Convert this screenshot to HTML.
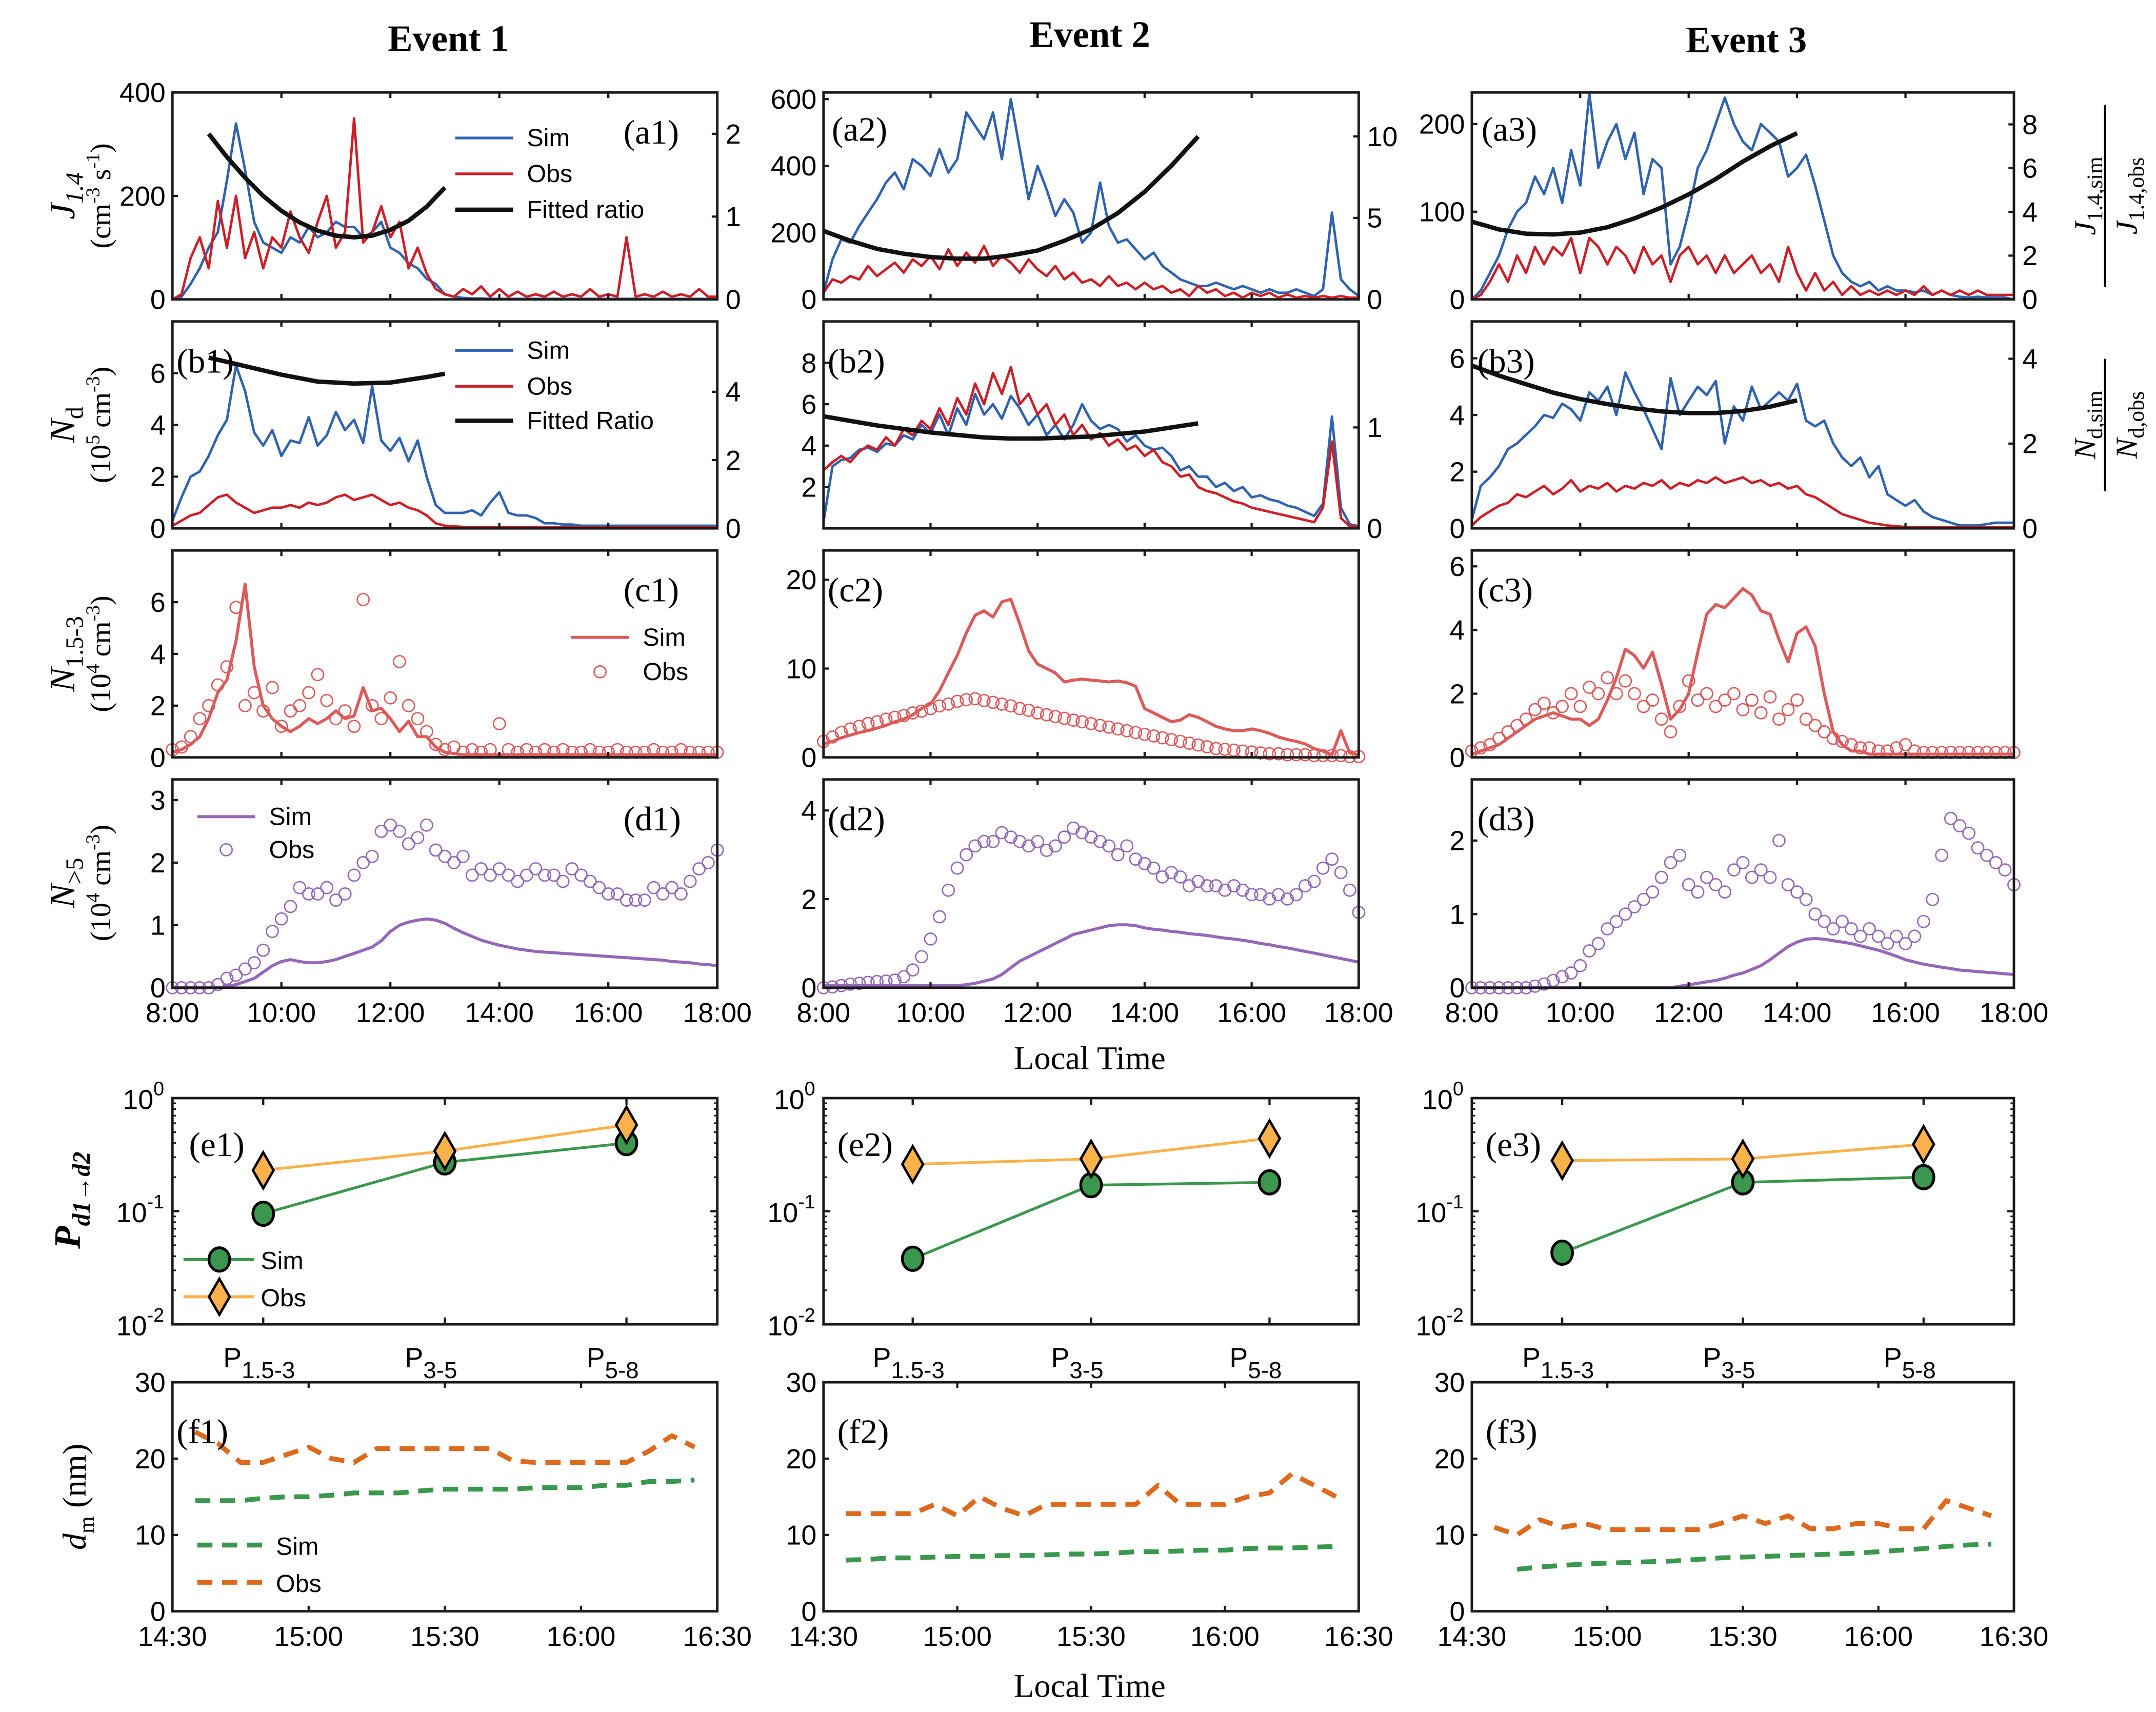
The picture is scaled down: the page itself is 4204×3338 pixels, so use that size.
<!DOCTYPE html>
<html><head><meta charset="utf-8"><title>Events chart</title>
<style>
html,body{margin:0;padding:0;background:#fff;}
svg{display:block;}
.tk{font-family:"Liberation Sans",Arial,sans-serif;font-size:20px;fill:#000;}
.lg{font-family:"Liberation Sans",Arial,sans-serif;font-size:18px;fill:#000;}
.sf{font-family:"Liberation Serif","Times New Roman",serif;fill:#000;}
</style></head>
<body>
<svg id="chart" xmlns="http://www.w3.org/2000/svg" width="4204" height="3338" viewBox="0 0 1563 1241">
<rect x="0" y="0" width="1563" height="1241" fill="#fff"/>
<text class="sf" x="325" y="37" font-size="27" font-weight="bold" text-anchor="middle">Event 1</text>
<text class="sf" x="790" y="34" font-size="27" font-weight="bold" text-anchor="middle">Event 2</text>
<text class="sf" x="1266" y="38" font-size="27" font-weight="bold" text-anchor="middle">Event 3</text>
<text class="sf" x="790" y="775" font-size="24" text-anchor="middle">Local Time</text>
<text class="sf" x="790" y="1230" font-size="24" text-anchor="middle">Local Time</text>
<text class="sf" transform="translate(54,142) rotate(-90)" font-size="26" text-anchor="middle"><tspan font-style="italic">J</tspan><tspan font-style="italic" font-size="18" dy="6">1.4</tspan></text>
<text class="sf" transform="translate(80,142) rotate(-90)" font-size="21" text-anchor="middle">(cm<tspan font-size="14" dy="-8">-3</tspan><tspan dy="8"> s</tspan><tspan font-size="14" dy="-8">-1</tspan><tspan dy="8">)</tspan></text>
<text class="sf" transform="translate(54,308) rotate(-90)" font-size="26" text-anchor="middle"><tspan font-style="italic">N</tspan><tspan font-size="18" dy="6">d</tspan></text>
<text class="sf" transform="translate(80,308) rotate(-90)" font-size="21" text-anchor="middle">(10<tspan font-size="14" dy="-8">5</tspan><tspan dy="8"> cm</tspan><tspan font-size="14" dy="-8">-3</tspan><tspan dy="8">)</tspan></text>
<text class="sf" transform="translate(54,474) rotate(-90)" font-size="26" text-anchor="middle"><tspan font-style="italic">N</tspan><tspan font-size="18" dy="6">1.5-3</tspan></text>
<text class="sf" transform="translate(80,474) rotate(-90)" font-size="21" text-anchor="middle">(10<tspan font-size="14" dy="-8">4</tspan><tspan dy="8"> cm</tspan><tspan font-size="14" dy="-8">-3</tspan><tspan dy="8">)</tspan></text>
<text class="sf" transform="translate(54,640) rotate(-90)" font-size="26" text-anchor="middle"><tspan font-style="italic">N</tspan><tspan font-size="18" dy="6">&gt;5</tspan></text>
<text class="sf" transform="translate(80,640) rotate(-90)" font-size="21" text-anchor="middle">(10<tspan font-size="14" dy="-8">4</tspan><tspan dy="8"> cm</tspan><tspan font-size="14" dy="-8">-3</tspan><tspan dy="8">)</tspan></text>
<text class="sf" transform="translate(58,870) rotate(-90)" font-size="27" font-weight="bold" font-style="italic" text-anchor="middle">P<tspan font-size="18" dy="7">d1→d2</tspan></text>
<text class="sf" transform="translate(62,1085) rotate(-90)" font-size="24" text-anchor="middle"><tspan font-style="italic">d</tspan><tspan font-size="16" dy="6">m</tspan><tspan dy="-6"> (nm)</tspan></text>
<text class="sf" transform="translate(1519,142) rotate(-90)" font-size="22" text-anchor="middle"><tspan font-style="italic">J</tspan><tspan font-size="16" dy="5">1.4,sim</tspan></text>
<line x1="1526" y1="76" x2="1526" y2="208" stroke="#000" stroke-width="1.5"/>
<text class="sf" transform="translate(1549,142) rotate(-90)" font-size="22" text-anchor="middle"><tspan font-style="italic">J</tspan><tspan font-size="16" dy="5">1.4,obs</tspan></text>
<text class="sf" transform="translate(1519,308) rotate(-90)" font-size="22" text-anchor="middle"><tspan font-style="italic">N</tspan><tspan font-size="16" dy="5">d,sim</tspan></text>
<line x1="1526" y1="260" x2="1526" y2="356" stroke="#000" stroke-width="1.5"/>
<text class="sf" transform="translate(1549,308) rotate(-90)" font-size="22" text-anchor="middle"><tspan font-style="italic">N</tspan><tspan font-size="16" dy="5">d,obs</tspan></text>
<g id="plots"></g>
</svg>
<script>
const a1Sim=[0,5,30,60,100,130, 230,340,250,150,110,100, 90,120,110,140,120,130, 150,140,140,120,130,150, 100,90,70,60,40,30, 10,5,3,2,2,1, 1,1,1,1,1,1, 1,1,1,1,1,1, 1,1,1,1,1,1, 1,1,1,1,1,1, 0];
const a1Obs=[0,10,80,120,60,190, 100,200,80,130,60,120, 100,170,120,90,150,200, 100,130,350,110,130,180, 120,150,60,100,50,20, 10,5,20,10,25,5, 20,5,15,5,10,5, 15,5,10,5,20,5, 10,5,120,5,10,5, 15,5,10,5,20,5, 5];
const a2Sim=[20,120,180,170,220,260, 300,350,380,330,420,400, 370,450,380,420,560,520, 480,560,420,600,450,300, 400,330,250,300,260,170, 200,350,220,170,180,150, 120,140,100,80,60,50, 40,40,50,40,30,40, 30,20,30,20,20,30, 20,10,30,260,60,30, 10];
const a2Obs=[20,60,50,70,60,100, 70,90,110,80,120,100, 130,90,150,100,140,110, 160,100,130,110,80,120, 90,70,100,60,80,50, 60,40,70,40,50,30, 50,30,40,20,30,10, 40,20,30,10,20,5, 20,10,20,5,15,5, 10,5,10,5,10,5, 5];
const a3Sim=[0,10,30,50,80,100, 110,140,120,150,110,170, 130,235,150,180,200,160, 190,120,160,150,40,60, 100,150,170,200,230,200, 180,170,200,190,180,140, 150,165,130,90,50,30, 20,15,20,10,15,10, 10,8,10,5,10,5, 3,2,3,2,2,2, 0];
const a3Obs=[0,5,20,40,20,50, 30,60,40,60,50,70, 30,70,60,40,60,50, 30,60,40,50,20,50, 60,40,50,30,50,30, 40,50,30,40,20,60, 30,10,30,10,20,5, 15,5,10,5,10,5, 10,5,15,5,10,5, 10,5,10,5,5,5, 5];
const b1Sim=[0.3,1.2,2.0,2.2,2.8,3.6, 4.2,6.3,5.3,3.7,3.2,3.8, 2.8,3.4,3.3,4.3,3.2,3.6, 4.5,3.8,4.2,3.3,5.5,3.4, 3.0,3.5,2.6,3.4,2.0,0.9, 0.6,0.6,0.6,0.7,0.5,1.0, 1.4,0.6,0.5,0.5,0.4,0.2, 0.2,0.15,0.15,0.1,0.1,0.1, 0.1,0.1,0.1,0.1,0.1,0.1, 0.1,0.1,0.1,0.1,0.1,0.1, 0.1];
const b1Obs=[0.1,0.3,0.5,0.6,0.9,1.2, 1.3,1.0,0.8,0.6,0.7,0.8, 0.8,0.9,0.8,1.0,0.9,1.0, 1.2,1.3,1.1,1.2,1.3,1.1, 0.9,1.0,0.8,0.7,0.5,0.2, 0.1,0.08,0.06,0.05,0.05,0.05, 0.05,0.05,0.05,0.05,0.05,0.05, 0.05,0.05,0.05,0.05,0.05,0.05, 0.05,0.05,0.05,0.05,0.05,0.05, 0.05,0.05,0.05,0.05,0.05,0.05, 0.05];
const b2Sim=[0.3,3.0,3.3,3.4,3.8,3.9, 3.7,4.1,4.0,4.5,4.3,5.0, 4.6,5.5,4.5,5.8,5.0,6.5, 5.5,6.0,5.3,6.4,5.8,5.0, 5.5,4.5,5.0,4.3,5.0,6.0, 5.2,4.8,5.0,4.8,4.2,4.5, 4.0,3.8,3.9,3.5,2.8,3.0, 2.5,2.5,2.0,2.2,1.8,2.0, 1.5,1.6,1.4,1.3,1.1,1.0, 0.8,0.6,1.2,5.4,1.0,0.2, 0.1];
const b2Obs=[2.8,3.2,3.5,3.2,3.7,4.0, 3.8,4.4,4.0,4.8,4.5,5.2, 4.8,5.8,5.0,6.3,5.5,7.0, 6.0,7.5,6.5,7.8,6.0,6.5, 5.5,6.0,5.0,5.5,4.5,5.0, 4.3,4.6,4.0,4.3,3.8,4.0, 3.5,3.8,3.2,3.0,2.5,2.6, 2.0,1.8,1.7,1.5,1.3,1.2, 1.0,0.9,0.8,0.7,0.6,0.5, 0.4,0.3,1.0,4.2,0.5,0.1, 0.1];
const b3Sim=[0.3,1.5,1.8,2.2,2.8,3.0, 3.3,3.6,4.0,3.9,4.4,4.2, 3.8,4.8,4.5,5.0,4.0,5.5, 4.8,4.2,3.5,2.8,5.3,4.0, 4.5,5.0,4.7,5.2,3.0,4.3, 3.8,5.0,4.2,4.5,4.8,4.5, 5.1,3.8,3.6,3.8,3.0,2.5, 2.2,2.5,1.8,2.2,1.2,1.0, 0.8,1.0,0.6,0.4,0.3,0.2, 0.1,0.1,0.1,0.15,0.2,0.2, 0.2];
const b3Obs=[0.1,0.4,0.6,0.8,0.9,1.2, 1.1,1.3,1.5,1.2,1.4,1.7, 1.3,1.5,1.4,1.6,1.3,1.5, 1.4,1.6,1.5,1.7,1.4,1.6, 1.5,1.7,1.6,1.8,1.6,1.7, 1.8,1.6,1.7,1.5,1.6,1.4, 1.5,1.2,1.1,0.9,0.7,0.5, 0.4,0.3,0.2,0.15,0.1,0.08, 0.05,0.05,0.05,0.05,0.05,0.05, 0.05,0.05,0.05,0.05,0.05,0.05, 0.05];
const c1Sim=[0.2,0.3,0.5,0.8,1.5,2.5, 3.0,4.5,6.7,3.5,2.0,1.5, 1.2,1.0,1.2,1.5,1.3,1.5, 1.8,1.5,1.6,2.7,1.8,1.9, 1.5,1.0,1.4,0.8,0.8,0.4, 0.2,0.15,0.1,0.1,0.1,0.1, 0.1,0.1,0.1,0.1,0.1,0.1, 0.1,0.1,0.1,0.1,0.1,0.1, 0.1,0.1,0.1,0.1,0.1,0.1, 0.1,0.1,0.1,0.1,0.1,0.1, 0.1];
const c1Obs=[0.3,0.4,0.8,1.5,2.0,2.8, 3.5,5.8,2.0,2.5,1.8,2.7, 1.2,1.8,2.0,2.5,3.2,2.2, 1.5,1.8,1.2,6.1,2.0,1.5, 2.3,3.7,2.0,1.5,1.0,0.5, 0.3,0.4,0.2,0.3,0.2,0.3, 1.3,0.3,0.2,0.3,0.2,0.3, 0.2,0.3,0.2,0.2,0.3,0.2, 0.2,0.3,0.2,0.2,0.2,0.3, 0.2,0.2,0.3,0.2,0.2,0.2, 0.2];
const c2Sim=[1.5,1.8,2.2,2.5,2.8,3.0, 3.3,3.6,4.0,4.3,4.8,5.5, 6.0,7.5,9.5,11.5,14.0,16.0, 16.5,15.8,17.5,17.8,15.0,12.0, 10.5,10.0,9.5,8.5,8.7,8.8, 8.7,8.6,8.5,8.6,8.4,8.0, 5.5,5.0,4.5,4.0,4.2,4.8, 4.5,4.0,3.5,3.2,3.0,3.0, 3.2,3.0,2.7,2.3,2.0,1.8, 1.5,1.0,0.7,0.3,3.0,0.5, 0.3];
const c2Obs=[1.8,2.3,2.8,3.2,3.5,3.8, 4.0,4.3,4.5,4.7,5.0,5.2, 5.5,5.8,6.0,6.3,6.5,6.6, 6.4,6.2,6.0,5.8,5.5,5.3, 5.0,4.8,4.6,4.4,4.2,4.0, 3.8,3.6,3.4,3.2,3.0,2.8, 2.6,2.4,2.2,2.0,1.8,1.6, 1.4,1.2,1.0,0.9,0.8,0.7, 0.6,0.5,0.4,0.4,0.3,0.3, 0.3,0.2,0.2,0.2,0.2,0.1, 0.1];
const c3Sim=[0.1,0.2,0.3,0.4,0.6,0.8, 1.0,1.2,1.3,1.4,1.3,1.2, 1.2,1.0,1.2,1.8,2.5,3.4, 3.2,2.8,3.3,2.3,1.2,1.5, 2.0,3.3,4.5,4.8,4.7,5.0, 5.3,5.1,4.6,4.5,3.7,3.0, 3.9,4.1,3.5,2.0,0.8,0.4, 0.2,0.2,0.1,0.1,0.1,0.1, 0.1,0.1,0.1,0.1,0.1,0.1, 0.1,0.1,0.1,0.1,0.1,0.1, 0.1];
const c3Obs=[0.2,0.3,0.4,0.6,0.8,1.0, 1.2,1.5,1.7,1.4,1.6,2.0, 1.6,2.2,2.0,2.5,2.0,2.4, 2.0,1.6,1.8,1.2,0.8,1.6, 2.4,1.8,2.0,1.6,1.8,2.0, 1.5,1.8,1.4,1.9,1.2,1.5, 1.8,1.2,1.0,0.8,0.6,0.5, 0.4,0.3,0.3,0.2,0.2,0.3, 0.4,0.2,0.15,0.15,0.15,0.15, 0.15,0.15,0.15,0.15,0.15,0.15, 0.15];
const d1Sim=[0,0,0,0,0,0, 0.02,0.05,0.1,0.15,0.25,0.35, 0.42,0.45,0.42,0.40,0.40,0.42, 0.45,0.50,0.55,0.60,0.65,0.75, 0.90,1.00,1.05,1.08,1.10,1.08, 1.03,0.95,0.88,0.82,0.76,0.72, 0.68,0.65,0.62,0.60,0.58,0.57, 0.56,0.55,0.54,0.53,0.52,0.51, 0.50,0.49,0.48,0.47,0.46,0.45, 0.44,0.42,0.41,0.40,0.38,0.37, 0.35];
const d1Obs=[0,0,0,0,0,0.05, 0.15,0.2,0.3,0.4,0.6,0.9, 1.1,1.3,1.6,1.5,1.5,1.6, 1.4,1.5,1.8,2.0,2.1,2.5, 2.6,2.5,2.3,2.4,2.6,2.2, 2.1,2.0,2.1,1.8,1.9,1.8, 1.9,1.8,1.7,1.8,1.9,1.8, 1.8,1.7,1.9,1.8,1.7,1.6, 1.5,1.5,1.4,1.4,1.4,1.6, 1.5,1.6,1.5,1.7,1.9,2.0, 2.2];
const d2Sim=[0.05,0.05,0.05,0.05,0.05,0.05, 0.05,0.05,0.05,0.05,0.05,0.05, 0.05,0.05,0.05,0.05,0.07,0.1, 0.15,0.2,0.3,0.45,0.6,0.7, 0.8,0.9,1.0,1.1,1.2,1.25, 1.3,1.35,1.4,1.42,1.42,1.4, 1.35,1.32,1.3,1.27,1.25,1.22, 1.2,1.18,1.15,1.12,1.1,1.07, 1.04,1.0,0.97,0.93,0.9,0.86, 0.82,0.78,0.74,0.7,0.66,0.62, 0.58];
const d2Obs=[0,0.02,0.05,0.08,0.1,0.12, 0.14,0.15,0.17,0.25,0.4,0.7, 1.1,1.6,2.2,2.7,3.0,3.2, 3.3,3.3,3.5,3.4,3.3,3.2, 3.3,3.1,3.2,3.4,3.6,3.5, 3.4,3.3,3.2,3.0,3.2,2.9, 2.8,2.7,2.5,2.6,2.5,2.3, 2.4,2.3,2.3,2.2,2.3,2.2, 2.1,2.1,2.0,2.1,2.0,2.1, 2.3,2.4,2.7,2.9,2.6,2.2, 1.7];
const d3Sim=[0,0,0,0,0,0, 0,0,0,0,0,0, 0,0,0,0,0,0, 0,0,0,0,0,0.02, 0.04,0.06,0.08,0.1,0.13,0.17, 0.2,0.25,0.3,0.38,0.47,0.56, 0.62,0.66,0.67,0.66,0.64,0.62, 0.6,0.57,0.54,0.51,0.47,0.43, 0.38,0.35,0.32,0.3,0.28,0.26, 0.24,0.23,0.22,0.21,0.2,0.19, 0.18];
const d3Obs=[0,0,0,0,0,0, 0,0.02,0.05,0.1,0.15,0.2, 0.3,0.5,0.6,0.8,0.9,1.0, 1.1,1.2,1.3,1.5,1.7,1.8, 1.4,1.3,1.5,1.4,1.3,1.6, 1.7,1.5,1.6,1.5,2.0,1.4, 1.3,1.2,1.0,0.9,0.8,0.9, 0.8,0.7,0.8,0.7,0.6,0.7, 0.6,0.7,0.9,1.2,1.8,2.3, 2.2,2.1,1.9,1.8,1.7,1.6, 1.4];
const fit1T=[40,60,80,100,120,140,160,180,200,220,240,260,280,300];
const fit1V=[2.0,1.72,1.47,1.25,1.07,0.93,0.83,0.77,0.75,0.77,0.84,0.95,1.12,1.35];
const fit2T=[0,30,60,90,120,150,180,210,240,270,300,330,360,390,420];
const fit2V=[4.2,3.6,3.1,2.8,2.6,2.5,2.5,2.7,3.0,3.6,4.3,5.3,6.6,8.2,10.0];
const fit3T=[0,30,60,90,120,150,180,210,240,270,300,330,360];
const fit3V=[3.55,3.2,3.0,2.97,3.05,3.3,3.7,4.2,4.8,5.5,6.3,7.0,7.6];
const fitB1T=[40,80,120,160,200,240,260,280,300];
const fitB1V=[5.0,4.75,4.5,4.3,4.24,4.27,4.35,4.43,4.53];
const fitB2T=[0,60,120,180,210,240,300,360,420];
const fitB2V=[1.11,1.02,0.95,0.9,0.89,0.89,0.91,0.96,1.04];
const fitB3T=[0,30,60,90,120,150,180,210,240,270,300,330,360];
const fitB3V=[3.84,3.6,3.4,3.2,3.05,2.93,2.83,2.76,2.72,2.72,2.77,2.87,3.02];
const pCats=['1.5-3','3-5','5-8'];
const e1Sim=[0.095,0.27,0.40], e1Obs=[0.23,0.34,0.58];
const e2Sim=[0.038,0.17,0.18], e2Obs=[0.26,0.29,0.44];
const e3Sim=[0.043,0.18,0.20], e3Obs=[0.28,0.29,0.39];
const fTimes=[5,10,15,20,25,30,35,40,45,50,55,60,65,70,75,80,85,90,95,100,105,110,115];
const f3SimTimes=[10,15,20,25,30,35,40,45,50,55,60,65,70,75,80,85,90,95,100,105,110,115];
const f1Sim=[14.5,14.5,14.5,14.8,15,15,15.2,15.5,15.5,15.5,15.8,16,16,16,16,16.2,16.2,16.2,16.5,16.5,17,17,17.2];
const f1Obs=[23.5,22,19.5,19.5,20.5,21.5,20,19.5,21.3,21.3,21.3,21.3,21.3,21.3,19.7,19.5,19.5,19.5,19.5,19.5,21,23,21.5];
const f2Sim=[6.7,6.8,7.0,7.0,7.1,7.2,7.2,7.3,7.3,7.4,7.5,7.5,7.6,7.8,7.8,7.9,8.0,8.0,8.2,8.3,8.3,8.4,8.5];
const f2Obs=[12.8,12.8,12.8,12.8,14,12.5,15,13.5,12.5,14,14,14,14,14,16.5,14,14,14,15,15.5,18,16.5,15];
const f3Sim=[5.5,5.8,6.0,6.2,6.3,6.4,6.5,6.6,6.8,7.0,7.1,7.2,7.3,7.4,7.5,7.6,7.8,8.0,8.2,8.5,8.7,8.8];
const f3Obs=[11,10,12,11,11.5,10.7,10.7,10.7,10.7,10.7,11.5,12.5,11.5,12.5,10.8,10.8,11.5,11.5,10.8,10.8,14.5,13.5,12.5];
const timeTickLabels=['8:00','10:00','12:00','14:00','16:00','18:00'];
const fTickLabels=['14:30','15:00','15:30','16:00','16:30'];

const NS='http://www.w3.org/2000/svg';
const root=document.getElementById('plots');
const COLX=[[125,520],[597,985],[1067,1460]];
const ROWY={a:[67,217],b:[233,383],c:[399,549],d:[565,716],e:[796,960],f:[1002,1168]};
const BLUE='#2f62b0',RED='#cc1f27',PINK='#dd5a5a',PURP='#9467b8',GREEN='#3a974d',ORANGE='#f9b24a',DORANGE='#dc6a1e';
const t10=Array.from({length:61},(_,i)=>i*10);

function mk(tag,attrs,name,parent){
  const el=document.createElementNS(NS,tag);
  for(const k in attrs) el.setAttribute(k,attrs[k]);
  
  
  (parent||root).appendChild(el);
  return el;
}
function txt(x,y,s,cls,anchor,name,size){
  const el=mk('text',{x:x,y:y,'class':cls,'text-anchor':anchor||'middle'},name);
  if(size) el.setAttribute('font-size',size);
  el.textContent=s;
  return el;
}
function lin(x0,x1,vmin,vmax){return v=>x0+(v-vmin)/(vmax-vmin)*(x1-x0);}
function linY(y0,y1,vmin,vmax){return v=>y1-(v-vmin)/(vmax-vmin)*(y1-y0);}
function polyline(xs,ys,fx,fy,color,w,name,dash){
  let d='';
  for(let i=0;i<xs.length;i++){d+=(i?'L':'M')+fx(xs[i]).toFixed(1)+','+fy(ys[i]).toFixed(1);}
  const a={d:d,fill:'none',stroke:color,'stroke-width':w,'stroke-linejoin':'round'};
  if(dash) a['stroke-dasharray']=dash;
  return mk('path',a,name);
}
function circles(xs,ys,fx,fy,color,name){
  for(let i=0;i<xs.length;i++){
    mk('circle',{cx:fx(xs[i]).toFixed(1),cy:fy(ys[i]).toFixed(1),r:4.3,fill:'none',stroke:color,'stroke-width':1},name);
  }
}
function box(col,row,name){
  const [x0,x1]=COLX[col],[y0,y1]=ROWY[row];
  mk('rect',{x:x0,y:y0,width:x1-x0,height:y1-y0,fill:'none',stroke:'#1a1a1a','stroke-width':1.8},name);
}
function yTicks(col,row,ticks,fy,side,name){
  const [x0,x1]=COLX[col];
  ticks.forEach(v=>{
    const y=fy(v);
    if(side==='left'){
      mk('line',{x1:x0,y1:y,x2:x0+4,y2:y,stroke:'#1a1a1a','stroke-width':1.6},name+'-tick');
      txt(x0-5,y+7,String(v),'tk','end',name+'-label');
    } else {
      mk('line',{x1:x1,y1:y,x2:x1-4,y2:y,stroke:'#1a1a1a','stroke-width':1.6},name+'-tick');
      txt(x1+6,y+7,String(v),'tk','start',name+'-label');
    }
  });
}
function xTimeTicks(col,row,labels,show,name){
  const [x0,x1]=COLX[col],[y0,y1]=ROWY[row];
  const n=labels.length;
  for(let i=0;i<n;i++){
    const x=x0+i/(n-1)*(x1-x0);
    mk('line',{x1:x,y1:y1,x2:x,y2:y1-4,stroke:'#1a1a1a','stroke-width':1.6},name+'-tick');
    mk('line',{x1:x,y1:y0,x2:x,y2:y0+4,stroke:'#1a1a1a','stroke-width':1.6},name+'-tick');
    if(show) txt(x,y1+25,labels[i],'tk','middle',name+'-label');
  }
}
function plabel(x,y,s,name){txt(x,y,s,'sf','start',name,25);}

const rows=[
 {row:'a',sims:[a1Sim,a2Sim,a3Sim],obs:[a1Obs,a2Obs,a3Obs],max:[400,620,236],ticks:[[0,200,400],[200,400,600,0],[0,100,200]],
  fitT:[fit1T,fit2T,fit3T],fitV:[fit1V,fit2V,fit3V],rmax:[2.5,12.7,9.46],rticks:[[0,1,2],[0,5,10],[0,2,4,6,8]],simC:BLUE,obsC:RED},
 {row:'b',sims:[b1Sim,b2Sim,b3Sim],obs:[b1Obs,b2Obs,b3Obs],max:[8,10,7.3],ticks:[[0,2,4,6],[2,4,6,8],[0,2,4,6]],
  fitT:[fitB1T,fitB2T,fitB3T],fitV:[fitB1V,fitB2V,fitB3V],rmax:[6.06,2.05,4.88],rticks:[[0,2,4],[0,1],[0,2,4]],simC:BLUE,obsC:RED},
 {row:'c',sims:[c1Sim,c2Sim,c3Sim],obs:[c1Obs,c2Obs,c3Obs],max:[8,23.3,6.5],ticks:[[0,2,4,6],[0,10,20],[0,2,4,6]],circ:true,simC:PINK,obsC:PINK},
 {row:'d',sims:[d1Sim,d2Sim,d3Sim],obs:[d1Obs,d2Obs,d3Obs],max:[3.33,4.7,2.83],ticks:[[0,1,2,3],[0,2,4],[0,1,2]],circ:true,simC:PURP,obsC:PURP}
];
const plab={a:[[452,104],[603,102],[1074,102]],b:[[128,270],[600,270],[1071,270]],c:[[452,436],[600,436],[1071,436]],d:[[452,602],[600,602],[1071,602]],
            e:[[137,838],[607,838],[1077,838]],f:[[128,1046],[607,1046],[1077,1046]]};

rows.forEach(R=>{
  for(let c=0;c<3;c++){
    const [x0,x1]=COLX[c],[y0,y1]=ROWY[R.row];
    const fx=lin(x0,x1,0,600), fy=linY(y0,y1,0,R.max[c]);
    const id=R.row+(c+1);
    if(R.circ){
      polyline(t10,R.sims[c],fx,fy,R.simC,2.2,'sim-line-'+id);
      circles(t10,R.obs[c],fx,fy,R.obsC,'obs-marker-'+id);
    } else {
      polyline(t10,R.sims[c],fx,fy,R.simC,1.8,'sim-line-'+id);
      polyline(t10,R.obs[c],fx,fy,R.obsC,1.8,'obs-line-'+id);
      const fr=linY(y0,y1,0,R.rmax[c]);
      polyline(R.fitT[c],R.fitV[c],fx,fr,'#111',3.2,'fitted-ratio-'+id);
      yTicks(c,R.row,R.rticks[c],fr,'right','right-y-axis-'+id);
    }
    box(c,R.row,'axes-box-'+id);
    yTicks(c,R.row,R.ticks[c],fy,'left','y-axis-'+id);
    xTimeTicks(c,R.row,timeTickLabels,R.row==='d','x-axis-'+id);
    const pl=plab[R.row][c];
    plabel(pl[0],pl[1],'('+id+')','panel-label-'+id);
  }
});

const eSims=[e1Sim,e2Sim,e3Sim], eObs=[e1Obs,e2Obs,e3Obs];
for(let c=0;c<3;c++){
  const [x0,x1]=COLX[c],[y0,y1]=ROWY.e;
  const fx=lin(x0,x1,0.5,3.5);
  const fy=v=>y1-(Math.log10(v)+2)/2*(y1-y0);
  const id='e'+(c+1);
  const idx=[1,2,3];
  polyline(idx,eObs[c],fx,fy,ORANGE,2,'obs-line-'+id);
  polyline(idx,eSims[c],fx,fy,GREEN,2,'sim-line-'+id);
  for(let i=0;i<3;i++){
    const x=fx(idx[i]),y=fy(eSims[c][i]);
    mk('ellipse',{cx:x,cy:y,rx:7.5,ry:8.5,fill:GREEN,stroke:'#000','stroke-width':2},'sim-marker-'+id);
  }
  for(let i=0;i<3;i++){
    const x=fx(idx[i]),y=fy(eObs[c][i]);
    mk('path',{d:`M${x},${y-13}L${x+7.5},${y}L${x},${y+13}L${x-7.5},${y}Z`,fill:ORANGE,stroke:'#000','stroke-width':1.8},'obs-marker-'+id);
  }
  box(c,'e','axes-box-'+id);
  for(let dcd=-2;dcd<=0;dcd++){
    const y=fy(Math.pow(10,dcd));
    mk('line',{x1:x0,y1:y,x2:x0+5,y2:y,stroke:'#1a1a1a','stroke-width':1.6},'y-axis-'+id+'-tick');
    mk('line',{x1:x1,y1:y,x2:x1-5,y2:y,stroke:'#1a1a1a','stroke-width':1.6},'y-axis-'+id+'-tick');
    const t=mk('text',{x:x0-6,y:y+8,'class':'tk','text-anchor':'end'},'y-axis-'+id+'-label');
    t.innerHTML='10<tspan font-size="14" dy="-10">'+dcd+'</tspan>';
    if(dcd<0){
      for(let m=2;m<=9;m++){
        const ym=fy(m*Math.pow(10,dcd));
        mk('line',{x1:x0,y1:ym,x2:x0+2.5,y2:ym,stroke:'#1a1a1a','stroke-width':1.2},'y-axis-'+id+'-minor-tick');
        mk('line',{x1:x1,y1:ym,x2:x1-2.5,y2:ym,stroke:'#1a1a1a','stroke-width':1.2},'y-axis-'+id+'-minor-tick');
      }
    }
  }
  for(let i=0;i<3;i++){
    const x=fx(idx[i]);
    mk('line',{x1:x,y1:y1,x2:x,y2:y1-5,stroke:'#1a1a1a','stroke-width':1.6},'x-axis-'+id+'-tick');
    mk('line',{x1:x,y1:y0,x2:x,y2:y0+5,stroke:'#1a1a1a','stroke-width':1.6},'x-axis-'+id+'-tick');
    const t=mk('text',{x:x-29,y:y1+31,'class':'tk','text-anchor':'start'},'x-axis-'+id+'-label');
    t.setAttribute('font-size','21');
    t.innerHTML='P<tspan font-size="17" dy="8">'+pCats[i]+'</tspan>';
  }
  plabel(plab.e[c][0],plab.e[c][1],'('+id+')','panel-label-'+id);
}
mk('line',{x1:133,y1:913,x2:184,y2:913,stroke:GREEN,'stroke-width':2.2},'legend-sim-line-e');
mk('ellipse',{cx:159,cy:913,rx:7.5,ry:8.5,fill:GREEN,stroke:'#000','stroke-width':2},'legend-sim-marker-e');
txt(189,920,'Sim','lg','start','legend-sim-label-e');
mk('line',{x1:133,y1:940,x2:184,y2:940,stroke:ORANGE,'stroke-width':2.2},'legend-obs-line-e');
mk('path',{d:'M159,927L166.5,940L159,953L151.5,940Z',fill:ORANGE,stroke:'#000','stroke-width':1.8},'legend-obs-marker-e');
txt(189,947,'Obs','lg','start','legend-obs-label-e');

const fS=[f1Sim,f2Sim,f3Sim], fO=[f1Obs,f2Obs,f3Obs], fST=[fTimes,fTimes,f3SimTimes];
for(let c=0;c<3;c++){
  const [x0,x1]=COLX[c],[y0,y1]=ROWY.f;
  const fx=lin(x0,x1,0,120), fy=linY(y0,y1,0,30);
  const id='f'+(c+1);
  polyline(fST[c],fS[c],fx,fy,GREEN,3.5,'sim-line-'+id,'11,7');
  polyline(fTimes,fO[c],fx,fy,DORANGE,3.5,'obs-line-'+id,'11,7');
  box(c,'f','axes-box-'+id);
  yTicks(c,'f',[0,10,20,30],fy,'left','y-axis-'+id);
  xTimeTicks(c,'f',fTickLabels,true,'x-axis-'+id);
  plabel(plab.f[c][0],plab.f[c][1],'('+id+')','panel-label-'+id);
}
mk('line',{x1:143,y1:1120,x2:192,y2:1120,stroke:GREEN,'stroke-width':3.5,'stroke-dasharray':'11,7'},'legend-sim-line-f');
txt(200,1127,'Sim','lg','start','legend-sim-label-f');
mk('line',{x1:143,y1:1147,x2:192,y2:1147,stroke:DORANGE,'stroke-width':3.5,'stroke-dasharray':'11,7'},'legend-obs-line-f');
txt(200,1154,'Obs','lg','start','legend-obs-label-f');

[['a',100,126,152,'Fitted ratio'],['b',254,280,305,'Fitted Ratio']].forEach(L=>{
  mk('line',{x1:330,y1:L[1],x2:372,y2:L[1],stroke:BLUE,'stroke-width':2},'legend-sim-line-'+L[0]);
  txt(382,L[1]+6,'Sim','lg','start','legend-sim-label-'+L[0]);
  mk('line',{x1:330,y1:L[2],x2:372,y2:L[2],stroke:RED,'stroke-width':2},'legend-obs-line-'+L[0]);
  txt(382,L[2]+6,'Obs','lg','start','legend-obs-label-'+L[0]);
  mk('line',{x1:330,y1:L[3],x2:372,y2:L[3],stroke:'#111','stroke-width':3.2},'legend-fit-line-'+L[0]);
  txt(382,L[3]+6,L[4],'lg','start','legend-fit-label-'+L[0]);
});
mk('line',{x1:414,y1:462,x2:456,y2:462,stroke:PINK,'stroke-width':2.2},'legend-sim-line-c');
txt(466,468,'Sim','lg','start','legend-sim-label-c');
mk('circle',{cx:435,cy:487,r:4.3,fill:'none',stroke:PINK,'stroke-width':1},'legend-obs-marker-c');
txt(466,493,'Obs','lg','start','legend-obs-label-c');
mk('line',{x1:143,y1:592,x2:185,y2:592,stroke:PURP,'stroke-width':2.2},'legend-sim-line-d');
txt(195,598,'Sim','lg','start','legend-sim-label-d');
mk('circle',{cx:164,cy:616,r:4.3,fill:'none',stroke:PURP,'stroke-width':1},'legend-obs-marker-d');
txt(195,622,'Obs','lg','start','legend-obs-label-d');
</script>
</body></html>
